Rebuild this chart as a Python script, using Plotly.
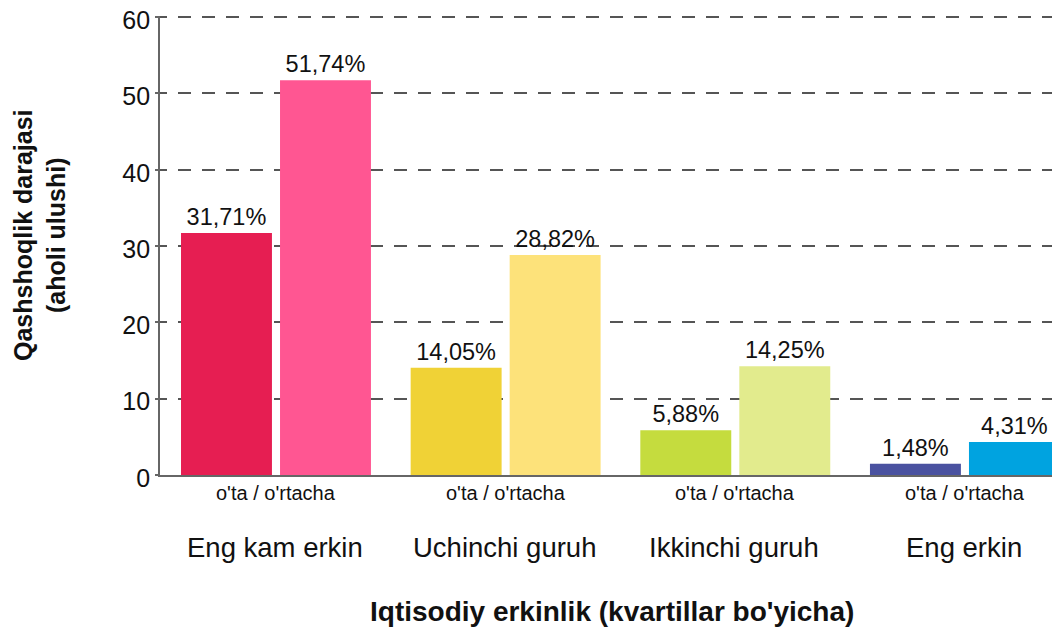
import plotly.graph_objects as go

groups = ["Eng kam erkin", "Uchinchi guruh", "Ikkinchi guruh", "Eng erkin"]
sub_label = "o'ta / o'rtacha"
ota = [31.71, 14.05, 5.88, 1.48]
ortacha = [51.74, 28.82, 14.25, 4.31]
ota_colors = ["#E61E52", "#F0D236", "#C5DC3E", "#4A52A0"]
ortacha_colors = ["#FF5692", "#FDE27A", "#E2EB8D", "#00A3E0"]
y_ticks = [0, 10, 20, 30, 40, 50, 60]
x_title = "Iqtisodiy erkinlik (kvartillar bo'yicha)"
y_title = "Qashshoqlik darajasi<br>(aholi ulushi)"

FONT = "Liberation Sans, Arial, Helvetica, sans-serif"

def fmt(v):
    return f"{v:.2f}".replace(".", ",") + "%"

xs = list(range(len(groups)))
bar_w = 0.396

fig = go.Figure()
fig.add_trace(go.Bar(
    x=xs, y=ota, width=bar_w, offset=-0.4085,
    marker=dict(color=ota_colors, line=dict(width=0)),
    text=[fmt(v) for v in ota], textposition="outside",
    textfont=dict(size=23.5, color="#111", family=FONT),
    cliponaxis=False, constraintext="none", showlegend=False,
))
fig.add_trace(go.Bar(
    x=xs, y=ortacha, width=bar_w, offset=0.0226,
    marker=dict(color=ortacha_colors, line=dict(width=0)),
    text=[fmt(v) for v in ortacha], textposition="outside",
    textfont=dict(size=23.5, color="#111", family=FONT),
    cliponaxis=False, constraintext="none", showlegend=False,
))

annotations = []
for i, g in enumerate(groups):
    annotations.append(dict(
        x=i + 0.005, y=0, xref="x", yref="paper", xanchor="center", yanchor="top",
        yshift=-5, text=sub_label, showarrow=False,
        font=dict(size=20, color="#111", family=FONT),
    ))
    annotations.append(dict(
        x=i + 0.0, y=0, xref="x", yref="paper", xanchor="center", yanchor="top",
        yshift=-55, text=g, showarrow=False,
        font=dict(size=27.5, color="#111", family=FONT),
    ))
annotations.append(dict(
    x=(612 - 160) / 900, y=0, xref="paper", yref="paper", xanchor="center", yanchor="top",
    yshift=-119, text="<b>" + x_title + "</b>", showarrow=False,
    font=dict(size=28, color="#111", family=FONT),
))
annotations.append(dict(
    x=(39 - 160) / 900, y=(475 - 235) / 459, xref="paper", yref="paper",
    xanchor="center", yanchor="middle", textangle=-90,
    text="<b>" + y_title + "</b>", showarrow=False,
    font=dict(size=25, color="#111", family=FONT),
))

grid_dash = "7px,11px," + ",".join(["13px,11px"] * 40)

# The page body has an 8px margin, so the figure is drawn 8px smaller and
# its margins are reduced by 8px to land the plot area where the reference has it.
# The y range reaches slightly past 60 so that the top gridline is kept.
fig.update_layout(
    width=1052, height=619,
    margin=dict(l=152, r=0, t=8, b=152, pad=0),
    paper_bgcolor="white", plot_bgcolor="white",
    barmode="overlay",
    font=dict(family=FONT, color="#111"),
    annotations=annotations,
    xaxis=dict(
        range=[-0.5, 3.419], showticklabels=False, showgrid=False, zeroline=False,
        showline=True, linecolor="#666", linewidth=1.8, ticks="", fixedrange=True,
        automargin=False,
    ),
    yaxis=dict(
        range=[0, 60.15], tickvals=y_ticks, ticktext=[str(t) for t in y_ticks],
        showgrid=True, gridcolor="#555", gridwidth=1.5, griddash=grid_dash,
        zeroline=False, showline=True, linecolor="#666", linewidth=1.8,
        ticks="outside", ticklen=3, tickcolor="#666", tickwidth=1.5,
        ticklabeloverflow="allow", automargin=False, ticklabelshift=3,
        tickfont=dict(size=25, color="#111", family=FONT), fixedrange=True,
    ),
)

fig.write_html("out.html")
